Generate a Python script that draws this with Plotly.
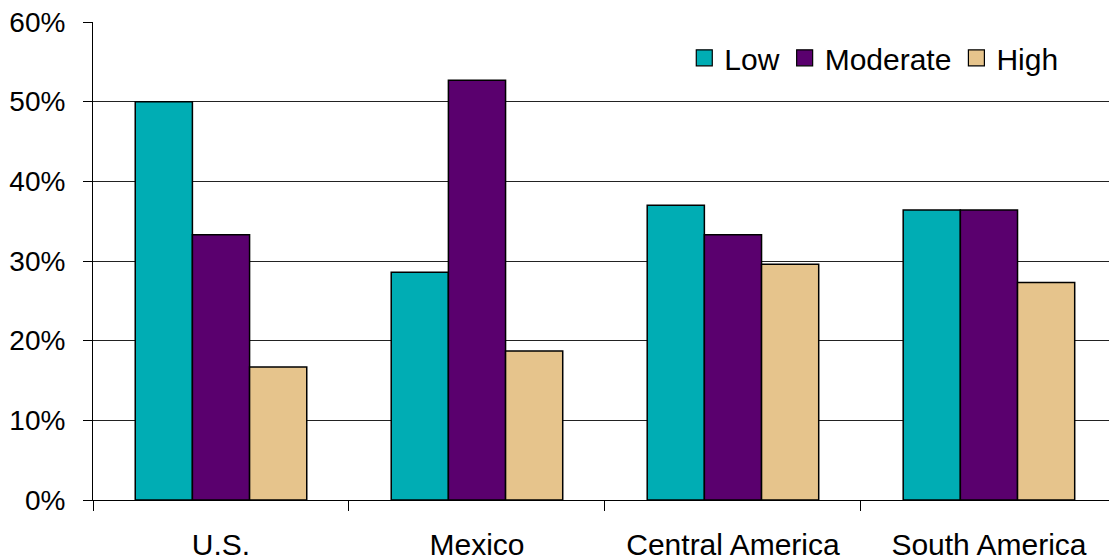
import plotly.graph_objects as go

regions = ["U.S.", "Mexico", "Central America", "South America"]
low = [0.500, 0.286, 0.370, 0.364]
moderate = [0.333, 0.527, 0.333, 0.364]
high = [0.167, 0.187, 0.296, 0.273]
y_ticks = [0, 0.1, 0.2, 0.3, 0.4, 0.5, 0.6]
y_tick_text = ["0%", "10%", "20%", "30%", "40%", "50%", "60%"]

series = [
    ("Low", low, "#00ADB4"),
    ("Moderate", moderate, "#5A006E"),
    ("High", high, "#E6C48C"),
]

FONT = "Liberation Sans, Arial, sans-serif"

fig = go.Figure()
for name, vals, color in series:
    fig.add_trace(go.Bar(
        x=regions, y=vals, name=name, showlegend=False,
        marker=dict(color=color, line=dict(color="black", width=1.5)),
    ))
# legend swatches
for name, vals, color in series:
    fig.add_trace(go.Scatter(
        x=[None], y=[None], mode="markers", name=name,
        marker=dict(symbol="square", size=18, color=color,
                    line=dict(color="black", width=1.2)),
    ))

fig.update_layout(
    width=1109, height=560,
    margin=dict(l=93, r=0, t=22, b=60),
    paper_bgcolor="white", plot_bgcolor="white",
    barmode="group", bargap=0.33, bargroupgap=0,
    font=dict(family=FONT, size=28, color="black"),
    legend=dict(
        orientation="h", x=0.955, xanchor="right", y=0.925, yanchor="middle",
        font=dict(size=30), bgcolor="rgba(0,0,0,0)",
        itemwidth=30, tracegroupgap=0,
    ),
    xaxis=dict(
        type="category", range=[-0.5, 3.469],
        showline=True, linecolor="black", linewidth=1,
        ticks="outside", tickson="boundaries", ticklen=10,
        tickcolor="black", tickwidth=1, showgrid=False,
        tickfont=dict(size=30), ticklabelstandoff=18,
    ),
    yaxis=dict(
        range=[0, 0.6], tickvals=y_ticks, ticktext=y_tick_text,
        showline=True, linecolor="black", linewidth=1,
        ticks="outside", ticklen=9, tickcolor="black", tickwidth=1,
        showgrid=True, gridcolor="#222222", gridwidth=1, zeroline=False,
        tickfont=dict(size=28), ticklabelstandoff=12,
    ),
)

fig.write_html("out.html")
